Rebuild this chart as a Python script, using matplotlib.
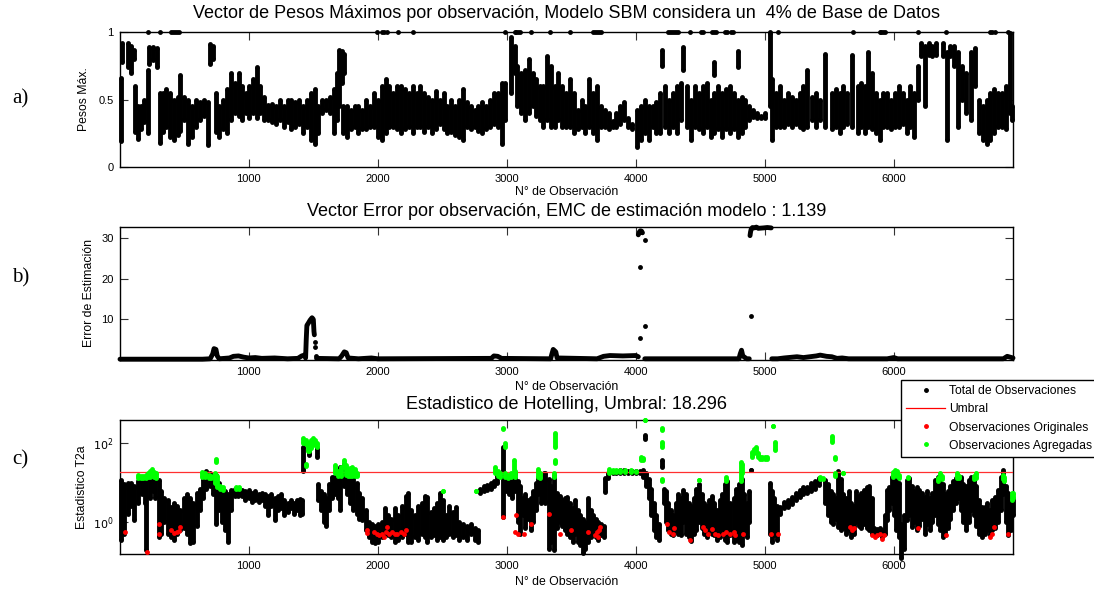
import numpy as np
import matplotlib
matplotlib.use('Agg')
import matplotlib.pyplot as plt
from matplotlib.lines import Line2D

plt.rcParams['font.family'] = ['Liberation Sans', 'DejaVu Sans']

n_obs = 6925
x_ticks = [1000, 2000, 3000, 4000, 5000, 6000]
umbral = 18.296

# a) Pesos maximos: vertical runs of observations (posicion, minimo, maximo)
pesos_x = [10, 15, 60, 90, 110, 115, 140, 165, 190, 215,
           225, 260, 290, 310, 335, 360, 390, 420, 450, 470,
           500, 530, 560, 590, 620, 650, 680, 700, 725, 745,
           770, 800, 830, 860, 890, 920, 950, 975, 1000, 1030,
           1060, 1090, 1120, 1150, 1180, 1210, 1240, 1270, 1300, 1330,
           1360, 1390, 1420, 1450, 1480, 1510, 1540, 1570, 1600, 1630,
           1660, 1680, 1700, 1725, 1740, 1730, 1760, 1790, 1820, 1850,
           1880, 1910, 1940, 1970, 2000, 2030, 2060, 2090, 2120, 2150,
           2180, 2210, 2240, 2270, 2300, 2330, 2360, 2390, 2420, 2450,
           2480, 2510, 2540, 2570, 2600, 2630, 2660, 2690, 2720, 2750,
           2780, 2810, 2840, 2870, 2900, 2930, 2960, 2990, 3030, 3060,
           3080, 3110, 3140, 3170, 3200, 3230, 3255, 3280, 3310, 3340,
           3370, 3400, 3430, 3460, 3490, 3520, 3550, 3580, 3610, 3640,
           3670, 3700, 3730, 3760, 3790, 3820, 3850, 3880, 3910, 3940,
           3970, 4010, 4040, 4070, 4100, 4130, 4160, 4190, 4200, 4230,
           4260, 4290, 4320, 4350, 4370, 4400, 4430, 4460, 4490, 4520,
           4550, 4580, 4610, 4640, 4670, 4700, 4730, 4760, 4790, 4820,
           4850, 4880, 4910, 4940, 4970, 5000, 5040, 5060, 5090, 5120,
           5150, 5180, 5210, 5240, 5270, 5300, 5330, 5370, 5400, 5430,
           5470, 5520, 5550, 5580, 5610, 5640, 5680, 5720, 5750, 5780,
           5800, 5830, 5860, 5890, 5920, 5950, 5980, 6010, 6040, 6070,
           6100, 6130, 6160, 6190, 6210, 6240, 6270, 6300, 6330, 6380,
           6410, 6440, 6470, 6500, 6530, 6560, 6600, 6630, 6660, 6690,
           6720, 6750, 6780, 6810, 6840, 6870, 6905, 6920, 4610, 4790]
pesos_lo = [.19, .78, .74, .70, .80, .26, .21, .28, .33, .25,
            .76, .79, .74, .18, .26, .30, .22, .20, .24, .27,
            .35, .17, .22, .30, .35, .38, .16, .76, .80, .26,
            .22, .28, .25, .35, .40, .38, .35, .40, .36, .40,
            .36, .40, .35, .35, .33, .32, .35, .30, .33, .28,
            .30, .32, .25, .30, .20, .17, .25, .40, .42, .40,
            .25, .35, .45, .62, .70, .25, .22, .28, .30, .25,
            .28, .28, .30, .30, .22, .20, .25, .30, .30, .28,
            .25, .28, .30, .25, .30, .30, .26, .30, .25, .28,
            .32, .28, .25, .26, .24, .22, .20, .30, .28, .30,
            .27, .25, .28, .30, .32, .30, .17, .35, .55, .70,
            .45, .40, .35, .40, .45, .38, .35, .30, .35, .30,
            .30, .35, .30, .30, .30, .25, .28, .30, .25, .30,
            .25, .20, .30, .30, .28, .30, .30, .32, .35, .30,
            .28, .15, .20, .25, .20, .30, .25, .25, .75, .30,
            .25, .30, .25, .35, .72, .30, .20, .30, .28, .25,
            .30, .22, .25, .28, .22, .28, .25, .28, .22, .25,
            .30, .35, .37, .36, .36, .36, .45, .20, .30, .30,
            .30, .32, .30, .32, .30, .28, .30, .35, .30, .35,
            .30, .28, .30, .25, .30, .32, .30, .25, .30, .25,
            .30, .28, .25, .20, .30, .30, .28, .30, .30, .32,
            .25, .30, .22, .50, .82, .45, .83, .82, .83, .82,
            .20, .82, .75, .30, .50, .40, .35, .60, .25, .20,
            .17, .20, .25, .30, .30, .28, .40, .35, .68, .74]
pesos_hi = [.66, .92, .92, .90, .87, .60, .45, .45, .50, .72,
            .89, .89, .88, .55, .55, .58, .55, .50, .52, .68,
            .52, .50, .45, .50, .48, .50, .48, .91, .90, .55,
            .45, .50, .58, .70, .62, .70, .60, .55, .60, .65,
            .74, .60, .52, .46, .47, .45, .50, .45, .50, .50,
            .48, .50, .45, .50, .55, .58, .45, .50, .50, .52,
            .58, .70, .87, .86, .84, .45, .45, .42, .45, .45,
            .42, .50, .45, .55, .50, .60, .65, .60, .55, .60,
            .60, .58, .55, .60, .55, .60, .55, .52, .50, .56,
            .50, .55, .45, .50, .45, .50, .58, .48, .45, .42,
            .45, .48, .45, .50, .55, .55, .62, .62, .96, .90,
            .75, .70, .72, .80, .70, .65, .60, .60, .82, .75,
            .60, .70, .60, .55, .65, .55, .42, .50, .45, .65,
            .55, .60, .45, .42, .40, .34, .40, .45, .48, .36,
            .32, .42, .45, .50, .45, .45, .48, .55, .87, .60,
            .50, .55, .60, .62, .89, .60, .50, .60, .55, .60,
            .62, .50, .55, .60, .55, .58, .60, .55, .50, .52,
            .50, .45, .42, .40, .38, .40, .99, .65, .55, .60,
            .50, .55, .52, .50, .55, .60, .72, .52, .55, .50,
            .84, .55, .58, .55, .60, .55, .83, .60, .62, .60,
            .85, .70, .55, .50, .55, .55, .50, .55, .60, .55,
            .50, .60, .55, .75, .92, .90, .92, .90, .92, .92,
            .85, .90, .90, .85, .75, .70, .85, .88, .50, .45,
            .50, .55, .58, .55, .55, .60, .99, .45, .78, .86]
# observations whose maximum weight equals 1
pesos_uno_x = [220, 310, 400, 415, 430, 445, 460, 1990, 2030, 2050,
               2070, 2160, 2274, 2985, 3062, 3075, 3088, 3101, 3191, 3333,
               3488, 3669, 3685, 3700, 3718, 3734, 4250, 4265, 4280, 4295,
               4310, 4328, 4419, 4509, 4522, 4590, 4605, 4620, 4690, 4705,
               4742, 4755, 5039, 5103, 5685, 5891, 5905, 5920, 5935, 6189,
               6408, 6744, 6760, 6783, 6886]

# b) Error de estimacion (tramos separados con nan)
error_x = [1, 640, 700, 720, 730, 745, 755, 770, 850, 880, 920, 960, 1000, 1050,
           1100, 1200, 1300, 1380, 1410, 1430, 1440, 1445, 1450, 1460, 1475, 1490,
           1500, 1505, 1508, np.nan,
           1525, 1700, 1720, 1740, 1755, 1770, 1850, 1950, 2000, 2880, 2900, 2930,
           2960, 3340, 3350, 3360, 3380, 3390, 3700, 3750, 3800, 3900, 4000, 4020, np.nan,
           4070, 4800, 4810, 4820, 4830, 4860, 4880, np.nan,
           4020, 4028, 4036, 4045, 4052, np.nan,
           4886, 4890, 4895, 4905, 4920, 4935, 4950, 4990, 5020, 5050, np.nan,
           5055, 5100, 5150, 5250, 5300, 5400, 5430, 5480, 5520, 5560, 5600, 5650,
           5950, 6000, 6030, 6850, 6880, 6925]
error_v = [.2, .2, .3, 1.5, 2.8, 2.6, 1.0, .3, .5, .9, 1.0, .7, .5, .6,
           .4, .5, .3, .4, 1.0, 1.2, .5, 5.0, 8.5, 9.0, 9.8, 10.4,
           10.0, 7.0, 6.2, np.nan,
           .4, .3, 1.0, 2.0, 1.8, .5, .3, .5, .3, .4, 1.0, .9,
           .4, .3, 1.5, 2.6, 2.0, .5, .3, .9, 1.1, 1.0, 1.1, .8, np.nan,
           .3, .3, 1.5, 2.4, 1.0, .3, .3, np.nan,
           30.8, 31.5, 31.8, 31.7, 31.3, np.nan,
           30.6, 31.5, 32.2, 32.6, 32.5, 32.7, 32.4, 32.5, 32.6, 32.5, np.nan,
           .3, .3, .5, .8, .6, 1.0, 1.2, .9, .8, .4, .5, .3,
           .3, .6, .3, .3, .9, .5]
error_pts_x = [1510, 1510, 1520, 4036, 4070, 4070, 4036, 4897]
error_pts_v = [4.5, 3.2, 1.0, 23.0, 29.6, 8.3, 5.4, 10.8]

# c) Estadistico T2a, total de observaciones (posicion, minimo, maximo)
t2_x = [10, 30, 60, 90, 110, 140, 170, 195, 205, 230,
        255, 275, 300, 320, 345, 370, 395, 420, 445, 470,
        495, 520, 545, 570, 595, 620, 645, 670, 700, 720,
        745, 765, 790, 815, 840, 865, 890, 915, 945, 970,
        1000, 1025, 1050, 1075, 1100, 1125, 1150, 1175, 1200, 1225,
        1250, 1275, 1300, 1325, 1350, 1375, 1395, 1410, 1420, 1470,
        1525, 1540, 1560, 1580, 1600, 1620, 1645, 1665, 1690, 1710,
        1735, 1760, 1785, 1810, 1835, 1855, 1880, 1905, 1930, 1955,
        1980, 2005, 2030, 2055, 2080, 2105, 2130, 2160, 2190, 2215,
        2235, 2260, 2285, 2310, 2340, 2365, 2385, 2410, 2435, 2460,
        2485, 2505, 2530, 2555, 2580, 2605, 2630, 2660, 2690, 2720,
        2750, 2775, 2790, 2820, 2850, 2880, 2900, 2925, 2972, 2995,
        3015, 3040, 3060, 3085, 3105, 3125, 3145, 3165, 3185, 3205,
        3225, 3245, 3265, 3285, 3300, 3325, 3345, 3365, 3390, 3410,
        3430, 3450, 3470, 3490, 3510, 3530, 3550, 3570, 3590, 3610,
        3630, 3650, 3670, 3690, 3710, 3730, 3750, 3765, 3785, 3820,
        3850, 3880, 3910, 3940, 3970, 4000, 4030, 4060, 4068, 4080,
        4100, 4120, 4140, 4160, 4180, 4205, 4220, 4235, 4250, 4270,
        4290, 4310, 4330, 4350, 4370, 4390, 4410, 4430, 4450, 4470,
        4490, 4510, 4530, 4550, 4570, 4590, 4610, 4630, 4650, 4670,
        4690, 4705, 4730, 4760, 4780, 4800, 4820, 4840, 4860, 4880,
        4896, 5040, 5055, 5075, 5095, 5120, 5150, 5180, 5210, 5240,
        5270, 5300, 5330, 5360, 5390, 5420, 5470, 5490, 5510, 5530,
        5550, 5570, 5590, 5610, 5630, 5650, 5670, 5690, 5710, 5730,
        5750, 5770, 5790, 5810, 5830, 5850, 5870, 5890, 5910, 5930,
        5945, 5965, 5985, 6000, 6020, 6040, 6060, 6080, 6100, 6120,
        6140, 6160, 6180, 6200, 6220, 6240, 6260, 6280, 6300, 6320,
        6340, 6360, 6380, 6400, 6420, 6440, 6460, 6480, 6500, 6520,
        6540, 6560, 6580, 6600, 6620, 6640, 6665, 6685, 6705, 6725,
        6745, 6765, 6785, 6805, 6830, 6850, 6870, 6890, 6910, 6922]
t2_lo = [.34, .5, 1.6, 2.5, 1.1, 3, 5, 3, .19, 4,
         6, 4, .4, .5, 1, .5, .4, .35, .5, .6,
         .7, .5, .28, .3, .8, 2, 4, 7, 8, 5,
         .9, 2, 1, .6, .31, 2, 4.5, 4.5, 4.5, 3.5,
         4, 3.2, 3.5, 3.2, 3.5, 2.5, 1.5, 2.5, 1.1, 2,
         2.2, 1.5, 1.8, 2.2, 1.6, 2, 1.5, 1.6, 20, 50,
         45, 3.6, 2, 1, .8, 2, 4, 5, 4, 2,
         8, 5, 3, 2, 1.6, 1.2, 1.1, .6, .4, .3,
         .28, .3, .4, .5, .45, .4, .3, .35, .4, .5,
         .3, .3, .4, .35, .5, .4, .3, .4, .45, .35,
         .4, .35, .4, .5, .4, .45, .35, .4, .35, .5,
         .35, .3, 5.3, 6, 6.5, 7, 8, 10, 1.3, 6,
         5, 4, 6, 1.0, .5, 1.5, .7, 1.2, .6, 1,
         2, 5, 3, 4, 3, .2, .3, .19, .7, 1,
         .8, .6, .5, .4, .3, .5, .3, .25, .16, .2,
         .3, .4, .5, .4, .35, .45, .4, 5.9, 13, 17,
         17.5, 17, 17.5, 17, 17.5, 17, 17, 14, 130, 8,
         4, 1.5, .6, .4, .35, 25, 3, 1, .6, .5,
         .45, .6, .5, .45, 1, .5, .4, .32, .5, .6,
         1, .7, .5, .4, .6, .5, .45, .35, .4, .5,
         .35, .3, .45, .3, .35, .3, .25, .6, .4, 1,
         21, .5, .3, .45, .35, 1.6, 2.2, 2.4, 2.8, 3.5,
         4.4, 5, 5.3, 6, 7, 8.5, 3, 1.5, 1, .9,
         1.2, .75, .6, .7, .5, .6, .4, .5, 1, .8,
         .7, .9, .7, .6, .5, .5, .45, .5, .4, .5,
         1.1, 2, 3, 1.5, .6, .41, .12, .2, 1.1, 1.5,
         .75, 1, .6, .8, 1.2, .5, .9, .6, 1, 1.5,
         .9, .6, .41, .45, .7, 1.2, 2, 3, 4, 2,
         1, .6, 1, 2, 1.5, .8, .5, .41, .5, .6,
         .45, .6, .7, 1, 2, 5, 1, .45, .6, 1.5]
t2_hi = [11.5, 9, 9.5, 9.5, 8, 11, 12, 12, 11.6, 13,
         14, 13, 11.5, 6, 4, 3.5, 2.4, 3, 2.5, 2,
         4, 5, 4, 3, 5.3, 7, 12, 20, 18, 15,
         16, 10, 7, 6, 5, 6.5, 7, 7.2, 6.5, 6,
         6.5, 5.5, 6, 5, 5.5, 5, 4.5, 5, 4, 4.5,
         5, 3.5, 3, 3.5, 3, 3.5, 3.8, 3.6, 82, 90,
         75, 9, 6, 5, 4, 9, 14, 15, 20, 25,
         30, 22, 16, 15, 10, 5.4, 4, 2, 1, .9,
         .8, .9, 1.0, 2.2, 1.5, 1.2, 2.3, 1.5, 2.5, 4.5,
         5.5, 2, 1.5, 2.5, 3, 4.5, 4.4, 1.8, 2.2, 3,
         5.5, 3.5, 1.5, 2.5, 1.8, 2.4, 1.0, .9, .8, .9,
         .7, .6, 7, 8, 8.5, 9.5, 11, 17, 82, 15,
         14, 12, 17, 11, 8, 4, 5, 3.5, 4, 6,
         10, 14, 12, 17, 17, 12, 8, 15, 5.3, 4.5,
         3.5, 4, 4.2, 3, 2.2, 3.5, 2, 1.5, 1.2, 1.0,
         4, 2, 1.5, 1.2, 1.0, .9, .8, 13, 18, 20,
         20, 20.5, 20.5, 20, 20, 20, 20, 21, 165, 17,
         12, 7, 3, 1.5, .9, 37, 7, 6, 3, 2,
         1.5, 3, 5, 4, 6.5, 5, 3, 2.5, 4, 7,
         9, 5, 3, 2.5, 3.5, 4.5, 3, 2, 3.5, 5,
         9, 11, 3, 4, 7, 9, 12, 5, 3, 6,
         21, 9.5, 6, 4, 2.5, 2.4, 3.2, 3.6, 4.4, 5.3,
         6.4, 7.5, 7.8, 9.5, 11, 13, 11.6, 9, 6, 5,
         4, 20, 12, 5, 4, 6, 3, 2.5, 6, 4.5,
         5.5, 6.4, 7.8, 8, 4, .7, .65, .7, .6, 1.5,
         6.4, 7.8, 14, 18, 15, 10, .9, 1.5, 11.6, 13,
         8, 6, 7.8, 6.4, 5.3, 4.4, 6, 4, 5.3, 11.6,
         14, 12, 9, 5, 6, 8, 11, 13, 15, 14,
         9, 8, 11.6, 14, 12, 8, 3.6, 2.4, 2.4, 3,
         2, 3.6, 4.4, 6.4, 14, 21, 8, 5.3, 3.6, 4]

# c) Observaciones agregadas (verde)
agr_x = [140, 160, 180, 200, 220, 235, 250, 265, 280, 640,
         660, 690, 710, 744, 735, 750, 775, 800, 900, 925,
         1420, 1440, 1455, 1470, 1485, 1500, 1515, 1527, 1442, 1665,
         1690, 1715, 1735, 1750, 1765, 1785, 1800, 1820, 1835, 2506,
         2765, 2910, 2930, 2950, 2972, 2985, 2990, 3010, 3035, 3055,
         3065, 3245, 3260, 3372, 3372, 3365, 3790, 3820, 3850, 3880,
         3920, 3960, 4000, 4040, 4055, 4075, 4200, 4203, 4205, 4490,
         4700, 4815, 4825, 4900, 4915, 4930, 4945, 4960, 4980, 5000,
         5020, 5065, 5078, 5430, 5450, 5525, 5543, 5545, 5607, 5995,
         6010, 6025, 6040, 6110, 6345, 6360, 6375, 6490, 6510, 6620,
         6635, 6845, 6855, 6915, 6923]
agr_lo = [12.7, 13, 13, 13, 14, 14, 15, 14, 13, 14,
          14, 13, 13, 33, 10, 7.5, 6.8, 6.5, 7, 7,
          100, 95, 65, 62, 75, 95, 90, 80, 26, 17,
          15, 15, 25, 16, 15, 15, 15, 15, 15, 6.2,
          6.2, 18, 15, 14, 230, 82, 14, 13, 14, 17,
          14, 14, 13, 82, 32, 14, 18, 19, 19, 19,
          19, 19, 19, 38, 37, 390, 220, 82, 11, 11.5,
          11, 11, 17, 45, 55, 60, 45, 40, 40, 40,
          40, 270, 68, 12, 12, 110, 40, 15, 17, 14,
          16, 15, 13, 13, 11, 13, 12, 13, 13, 12,
          13, 12, 11, 3.5, 4]
agr_hi = [15.5, 15, 15, 15.5, 17, 20, 22, 19, 17, 19,
          18, 16, 15, 40, 17, 15, 8, 7.8, 7.8, 7.8,
          140, 120, 100, 85, 120, 140, 120, 100, 30, 28,
          20, 25, 37, 28, 20, 23, 25, 22, 18, 6.2,
          6.2, 25, 20, 18, 240, 100, 17, 16, 17, 37,
          20, 22, 18, 180, 37, 17, 22, 21, 21, 21,
          21, 21, 20, 45, 42, 390, 240, 110, 12, 11.5,
          14, 34, 30, 60, 70, 82, 55, 45, 45, 45,
          45, 270, 110, 14, 13, 150, 45, 18, 17, 19,
          21, 20, 16, 14, 13, 17, 15, 17, 15, 15,
          17, 16, 14, 5.3, 5.5]

# c) Observaciones originales (rojo)
orig_x = [39, 212, 305, 305, 400, 420, 440, 460, 465, 1915,
          1920, 1970, 1990, 2010, 2030, 2045, 2060, 2072, 2090, 2110,
          2130, 2150, 2180, 2200, 2215, 2972, 3075, 3060, 3090, 3130,
          3191, 3328, 3410, 3500, 3630, 3685, 3700, 3715, 3720, 3705,
          4245, 4260, 4290, 4300, 4420, 4520, 4540, 4560, 4595, 4615,
          4640, 4680, 4700, 4730, 4760, 4770, 4832, 5051, 5104, 5665,
          5680, 5695, 5830, 5855, 5870, 5890, 5910, 5925, 6189, 6408,
          6745, 6760, 6775, 6886]
orig_v = [.56, .17, .9, .5, .61, .52, .55, .58, .75, .6,
          .52, .55, .5, .45, .5, .4, .55, .75, .5, .55,
          .5, .5, .55, .5, .6, 1.3, 1.5, .55, .5, .5,
          .9, 1.6, .5, .6, .56, .45, .55, .62, .75, .4,
          .9, .55, .5, .7, .34, .75, .6, .5, .65, .5,
          .45, .5, .55, .5, .55, .45, .5, .5, .5, .75,
          .6, .7, .45, .42, .45, .5, .37, .45, .7, .45,
          .4, .5, .75, .5]

DOT = 3.5  # marker diameter in points


def trazos(ax, x, lo, hi, color, z=3):
    # each run of observations drawn as a stroke with round dots at both ends
    ax.vlines(x, lo, hi, colors=color, lw=DOT, zorder=z, clip_on=False)
    ax.scatter(list(x) + list(x), list(lo) + list(hi), s=DOT ** 2, c=color,
               lw=0, zorder=z, clip_on=False)


fig = plt.figure(figsize=(10.94, 5.89), dpi=100)
W, H = 1094, 589


def make_axes(left, top, right, bottom):
    return fig.add_axes([left / W, 1 - bottom / H, (right - left) / W, (bottom - top) / H])


ax_a = make_axes(120, 32, 1013, 167)
ax_b = make_axes(120, 226.7, 1013, 360)
ax_c = make_axes(120, 420, 1013, 554.3)

# a)
trazos(ax_a, pesos_x, pesos_lo, pesos_hi, 'k')
ax_a.scatter(pesos_uno_x, [1.0] * len(pesos_uno_x), s=DOT ** 2, c='k', lw=0,
             zorder=3, clip_on=False)
ax_a.set_ylim(0, 1)
ax_a.set_yticks([0, 0.5, 1])
ax_a.set_yticklabels(['0', '0.5', '1'])

# b)
ax_b.plot(error_x, error_v, color='k', lw=DOT, solid_capstyle='round',
          solid_joinstyle='round', zorder=3, clip_on=False)
ax_b.scatter(error_pts_x, error_pts_v, s=DOT ** 2, c='k', lw=0, zorder=3, clip_on=False)
ax_b.set_ylim(0, 32.8)
ax_b.set_yticks([10, 20, 30])

# c)
ax_c.set_yscale('log')
trazos(ax_c, t2_x, t2_lo, t2_hi, 'k', z=2)
ax_c.axhline(umbral, color='#ff3030', lw=0.9, zorder=3)
ax_c.scatter(orig_x, orig_v, s=DOT ** 2, c='#ff0000', lw=0, zorder=4, clip_on=False)
trazos(ax_c, agr_x, agr_lo, agr_hi, '#00ff00', z=5)
ax_c.set_ylim(0.148, 393)
ax_c.set_yticks([1, 100])
ax_c.set_yticklabels([r'$10^0$', r'$10^2$'])
ax_c.minorticks_off()

titulos = ['Vector de Pesos Máximos por observación, Modelo SBM considera un  4% de Base de Datos',
           'Vector Error por observación, EMC de estimación modelo : 1.139',
           'Estadistico de Hotelling, Umbral: 18.296']
titulo_y = [1.10, 1.08, 1.08]
ylabels = ['Pesos Máx.', 'Error de Estimación', 'Estadistico T2a']
ylabel_x = [-0.040, -0.0345, -0.0425]
xlabel_y = [-0.185, -0.200, -0.204]

for ax, titulo, ty, yl, yx, xy in zip((ax_a, ax_b, ax_c), titulos, titulo_y, ylabels,
                                      ylabel_x, xlabel_y):
    ax.set_xlim(1, n_obs)
    ax.set_xticks(x_ticks)
    ax.tick_params(direction='in', top=True, right=True, length=6, width=0.8,
                   labelsize=8, color='#333333')
    ax.tick_params(axis='x', pad=5)
    ax.tick_params(axis='y', pad=4.5)
    for s in ax.spines.values():
        s.set_linewidth(1.0)
    ax.text(0.5, ty, titulo, transform=ax.transAxes, ha='center', va='baseline',
            fontsize=13)
    ax.set_ylabel(yl, fontsize=8.8)
    ax.yaxis.set_label_coords(yx, 0.5)
    ax.yaxis.label.set_verticalalignment('center')
    ax.set_xlabel('N° de Observación', fontsize=8.8)
    ax.xaxis.set_label_coords(0.5, xy)
    ax.xaxis.label.set_verticalalignment('center')

for letra, yc in zip(['a)', 'b)', 'c)'], [99, 278, 460]):
    fig.text(12 / W, 1 - yc / H, letra, family='Liberation Serif', fontsize=15,
             ha='left', va='center')

handles = [Line2D([], [], ls='none', marker='.', color='k', ms=5),
           Line2D([], [], color='#ff0000', lw=0.9),
           Line2D([], [], ls='none', marker='.', color='#ff0000', ms=5),
           Line2D([], [], ls='none', marker='.', color='#00ff00', ms=5)]
labels = ['Total de Observaciones', 'Umbral', 'Observaciones Originales',
          'Observaciones Agregadas']
leg = fig.legend(handles, labels, loc='upper left', bbox_to_anchor=(901 / W, 1 - 380 / H),
                 frameon=True, fancybox=False, edgecolor='k', framealpha=1, fontsize=8.7,
                 handlelength=3.2, handletextpad=0.3, labelspacing=0.5, borderpad=0.45,
                 borderaxespad=0)
leg.get_frame().set_linewidth(1.0)

fig.savefig('out.png', dpi=100)
